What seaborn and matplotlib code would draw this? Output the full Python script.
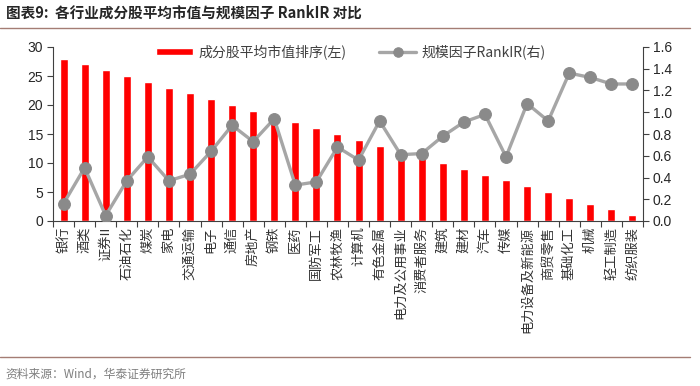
import numpy as np
import pandas as pd
import matplotlib
matplotlib.use("Agg")
import matplotlib.pyplot as plt
import seaborn as sns
from matplotlib.ticker import FormatStrFormatter, FixedLocator

# industries, size rank of constituents (left axis) and size factor RankIR (right axis)
industries = ['银行', '酒类', '证券II', '石油石化', '煤炭', '家电', '交通运输', '电子',
              '通信', '房地产', '钢铁', '医药', '国防军工', '农林牧渔', '计算机', '有色金属',
              '电力及公用事业', '消费者服务', '建筑', '建材', '汽车', '传媒',
              '电力设备及新能源', '商贸零售', '基础化工', '机械', '轻工制造', '纺织服装']
size_rank = [28, 27, 26, 25, 24, 23, 22, 21, 20, 19, 18, 17, 16, 15, 14, 13,
             12, 11, 10, 9, 8, 7, 6, 5, 4, 3, 2, 1]
rank_ir = [0.16, 0.49, 0.05, 0.37, 0.59, 0.37, 0.43, 0.64, 0.88, 0.73, 0.94, 0.33,
           0.36, 0.68, 0.56, 0.92, 0.61, 0.62, 0.78, 0.91, 0.98, 0.59, 1.08, 0.92,
           1.36, 1.32, 1.26, 1.26]

df = pd.DataFrame({'industry': industries, 'rank': size_rank, 'ir': rank_ir})
df['pos'] = np.arange(len(df))

sns.set_style("ticks")
plt.rcParams['font.family'] = ['Liberation Sans', 'Noto Sans CJK SC', 'DejaVu Sans']
plt.rcParams['axes.unicode_minus'] = False
cjk = ['Noto Sans CJK SC', 'DejaVu Sans']

fig = plt.figure(figsize=(7, 3.86), dpi=100)
ax = fig.add_axes([53 / 700, 1 - 221 / 386, 590 / 700, 174 / 386])

sns.barplot(data=df, x='industry', y='rank', color='#FF0000', width=0.38,
            saturation=1, ax=ax, label='成分股平均市值排序(左)')
if ax.get_legend() is not None:
    ax.get_legend().remove()
ax.set_xlim(-0.5, len(df) - 0.5)
ax.set_ylim(0, 30)
ax.set_yticks(range(0, 31, 5))
ax.set_xlabel('')
ax.set_ylabel('')

ax2 = ax.twinx()
sns.lineplot(data=df, x='pos', y='ir', ax=ax2, color='#A6A6A6', linewidth=2.4,
             marker='o', markersize=8.5, markerfacecolor='#8A8A8A',
             markeredgecolor='#8A8A8A', label='规模因子RankIR(右)', legend=False)
ax2.set_ylim(0, 1.6)
ax2.set_yticks(np.arange(0, 1.61, 0.2))
ax2.yaxis.set_major_formatter(FormatStrFormatter('%.1f'))
ax2.set_xlabel('')
ax2.set_ylabel('')
ax2.set_xlim(-0.5, len(df) - 0.5)

# x labels rotated, ticks between categories
ax.set_xticks(df['pos'])
ax.set_xticklabels(df['industry'], rotation=90, fontsize=9.5, family=cjk, color='#333333')
ax.tick_params(axis='x', which='major', length=0, pad=4)
ax.xaxis.set_minor_locator(FixedLocator(np.arange(-0.5, len(df), 1)))
ax.tick_params(axis='x', which='minor', length=4, width=0.8, color='#404040')
ax.tick_params(axis='y', length=4, width=0.8, color='#404040', labelsize=10, pad=3)
ax2.tick_params(axis='y', length=4, width=0.8, color='#404040', labelsize=10, pad=3)

for a in (ax, ax2):
    a.spines['top'].set_visible(False)
    for s in ('left', 'right', 'bottom'):
        a.spines[s].set_color('#404040')
        a.spines[s].set_linewidth(0.8)
ax.spines['right'].set_visible(False)
ax2.spines['left'].set_visible(False)
ax2.spines['bottom'].set_visible(False)

h1, l1 = ax.get_legend_handles_labels()
h2, l2 = ax2.get_legend_handles_labels()
leg = ax2.legend(h1 + h2, l1 + l2, loc='center', bbox_to_anchor=(0.505, 1 - 5 / 174),
                 ncol=2, frameon=False, handlelength=2.7, handleheight=0.45,
                 columnspacing=2.3, handletextpad=0.4, markerscale=0.8,
                 prop={'family': cjk, 'size': 10})
for t in leg.get_texts():
    t.set_color('#404040')

# title, rules and source
fig.text(0.008, 1 - 13 / 386, '图表9:  各行业成分股平均市值与规模因子 RankIR 对比',
         fontsize=10.5, fontweight='bold', va='center', ha='left', family=cjk)
fig.add_artist(plt.Line2D([0.0, 0.985], [1 - 28 / 386] * 2, color='#A47D74', linewidth=1))
fig.add_artist(plt.Line2D([0.0, 0.985], [1 - 357 / 386] * 2, color='#A47D74', linewidth=1))
fig.text(0.008, 1 - 374 / 386, '资料来源：Wind，华泰证券研究所', fontsize=8.5,
         color='#7F7F7F', va='center', ha='left', family=cjk)

fig.savefig('out.png', dpi=100)
